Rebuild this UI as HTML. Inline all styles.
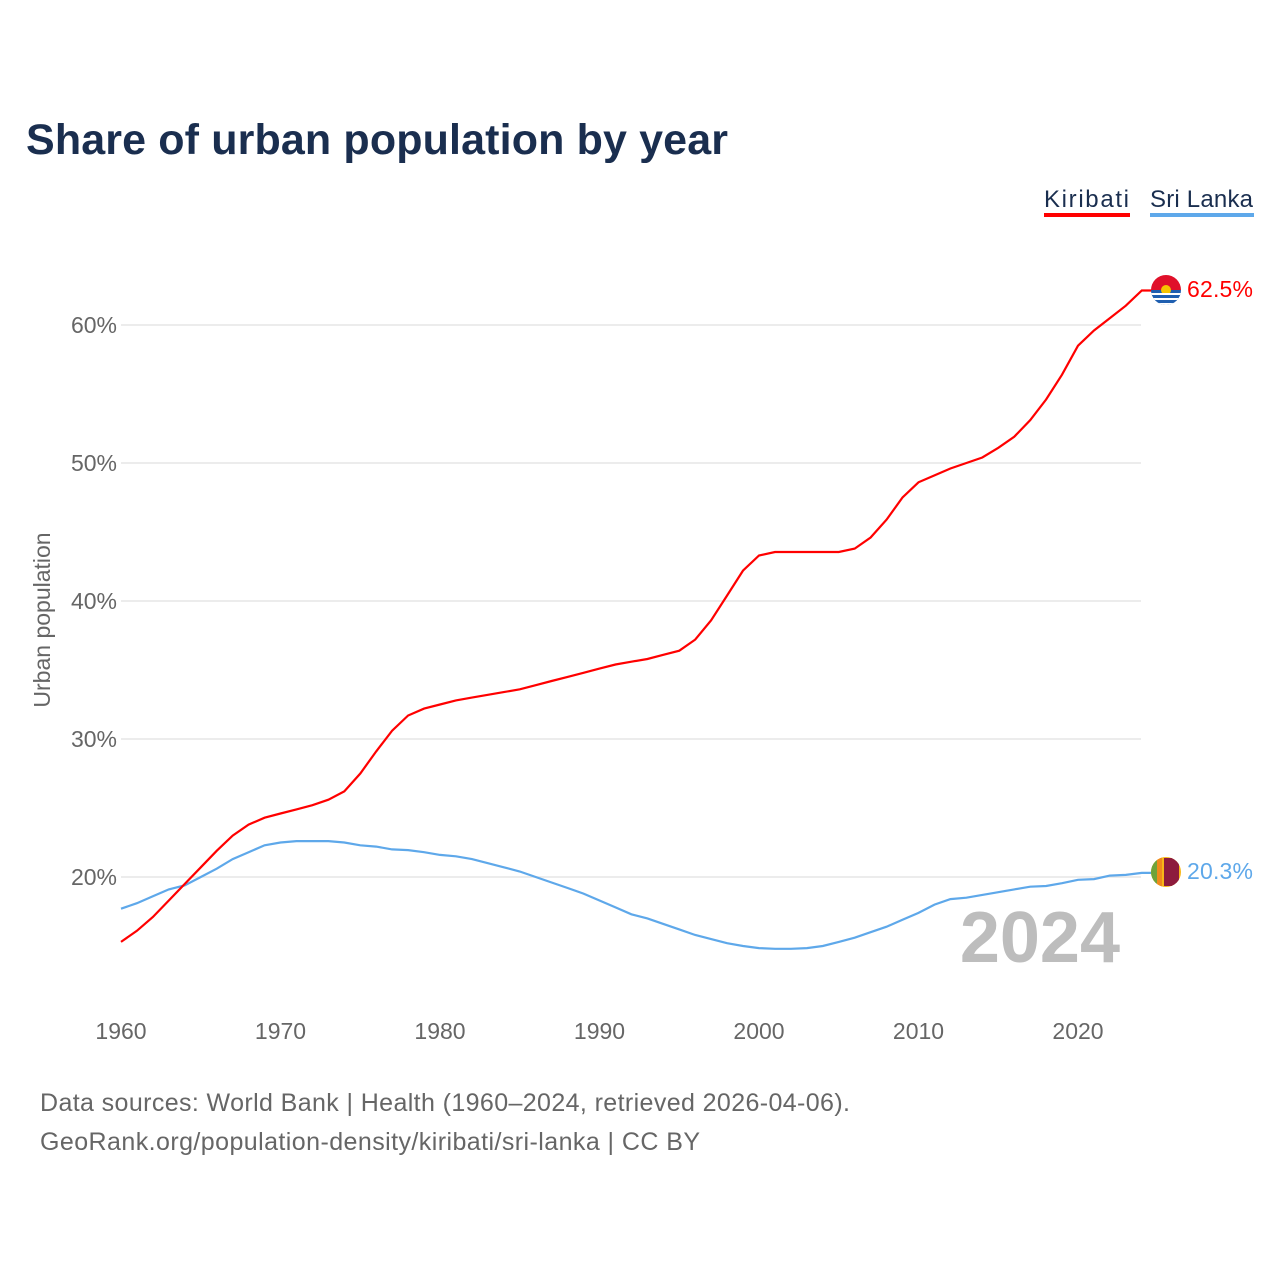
<!DOCTYPE html>
<html><head><meta charset="utf-8"><style>
body{margin:0;background:#fff;font-family:"Liberation Sans",sans-serif;}
svg{display:block}
</style></head><body>
<svg width="1280" height="1280" viewBox="0 0 1280 1280">
<text x="26" y="154" font-size="43" font-weight="bold" fill="#1a2e4f" textLength="702">Share of urban population by year</text>
<g>
<text x="1044" y="207" font-size="24" fill="#1a2e4f" textLength="85">Kiribati</text>
<rect x="1044" y="213" width="86" height="4" fill="#ff0000"/>
<text x="1150" y="207" font-size="24" fill="#1a2e4f" textLength="103">Sri Lanka</text>
<rect x="1150" y="213" width="104" height="4" fill="#5ea8ea"/>
</g>
<text transform="translate(50,620) rotate(-90)" text-anchor="middle" font-size="23" fill="#666">Urban population</text>
<g id="grid"></g><g id="xt"></g>
<text x="1120" y="962" text-anchor="end" font-size="72" font-weight="bold" fill="#bdbdbd">2024</text>
<g id="lines"></g>
<g>
<clipPath id="ck"><circle cx="1166" cy="290" r="15"/></clipPath>
<g clip-path="url(#ck)"><rect x="1150" y="274" width="32" height="16" fill="#e0102a"/><rect x="1150" y="290" width="32" height="16" fill="#1f5fb0"/>
<circle cx="1166" cy="290" r="5" fill="#f5c400"/><path d="M1150 294h32M1150 299h32M1150 304h32" stroke="#fff" stroke-width="2"/></g></g>
<g>
<clipPath id="cs"><circle cx="1166" cy="872" r="15"/></clipPath>
<g clip-path="url(#cs)"><rect x="1150" y="856" width="32" height="32" fill="#f7b718"/><rect x="1151" y="856" width="6" height="32" fill="#6fa33a"/><rect x="1157" y="856" width="5" height="32" fill="#f08a1c"/><rect x="1164" y="858" width="15" height="28" fill="#8d1b3d"/></g></g>
<text x="1187" y="297" font-size="23" fill="#ff0000" textLength="66">62.5%</text>
<text x="1187" y="879" font-size="23" fill="#5ea8ea" textLength="66">20.3%</text>
<text x="40" y="1111" font-size="25" fill="#666" textLength="810">Data sources: World Bank | Health (1960–2024, retrieved 2026-04-06).</text>
<text x="40" y="1150" font-size="25" fill="#666" textLength="660">GeoRank.org/population-density/kiribati/sri-lanka | CC BY</text>
</svg>
<script>
const years=[];for(let y=1960;y<=2024;y++)years.push(y);
const kiribati=[15.3,16.1,17.1,18.3,19.5,20.7,21.9,23.0,23.8,24.3,24.6,24.9,25.2,25.6,26.2,27.5,29.1,30.6,31.7,32.2,32.5,32.8,33.0,33.2,33.4,33.6,33.9,34.2,34.5,34.8,35.1,35.4,35.6,35.8,36.1,36.4,37.2,38.6,40.4,42.2,43.3,43.55,43.55,43.55,43.55,43.55,43.8,44.6,45.9,47.5,48.6,49.1,49.6,50.0,50.4,51.1,51.9,53.1,54.6,56.4,58.5,59.6,60.5,61.4,62.5];
const sriLanka=[17.7,18.1,18.6,19.1,19.4,20.0,20.6,21.3,21.8,22.3,22.5,22.6,22.6,22.6,22.5,22.3,22.2,22.0,21.95,21.8,21.6,21.5,21.3,21.0,20.7,20.4,20.0,19.6,19.2,18.8,18.3,17.8,17.3,17.0,16.6,16.2,15.8,15.5,15.2,15.0,14.85,14.8,14.8,14.85,15.0,15.3,15.6,16.0,16.4,16.9,17.4,18.0,18.4,18.5,18.7,18.9,19.1,19.3,19.35,19.55,19.8,19.85,20.1,20.15,20.3];
const yTicks=[20,30,40,50,60];
const xTicks=[1960,1970,1980,1990,2000,2010,2020];
const NS="http://www.w3.org/2000/svg";
const X=y=>121+(y-1960)*957/60;
const Y=v=>1153-v*13.8;
const grid=document.getElementById('grid'),xt=document.getElementById('xt'),lines=document.getElementById('lines');
yTicks.forEach(t=>{
 const l=document.createElementNS(NS,'line');
 l.setAttribute('x1',121);l.setAttribute('x2',1141);l.setAttribute('y1',Y(t));l.setAttribute('y2',Y(t));
 l.setAttribute('stroke','#e6e6e6');l.setAttribute('stroke-width','1.5');
 
 
 grid.appendChild(l);
 const tx=document.createElementNS(NS,'text');
 tx.setAttribute('x',117);tx.setAttribute('y',Y(t)+8);tx.setAttribute('text-anchor','end');
 tx.setAttribute('font-size','23');tx.setAttribute('fill','#666');tx.textContent=t+'%';
 
 
 grid.appendChild(tx);
});
xTicks.forEach(t=>{
 const tx=document.createElementNS(NS,'text');
 tx.setAttribute('x',X(t));tx.setAttribute('y',1039);tx.setAttribute('text-anchor','middle');
 tx.setAttribute('font-size','23');tx.setAttribute('fill','#666');tx.textContent=t;
 
 
 xt.appendChild(tx);
});
function draw(vals,color,name){
 let d=vals.map((v,i)=>(i?'L':'M')+X(years[i]).toFixed(1)+' '+Y(v).toFixed(1)).join(' ');
 d+=' L'+(X(years[years.length-1])+10)+' '+Y(vals[vals.length-1]).toFixed(1);
 const p=document.createElementNS(NS,'path');
 p.setAttribute('d',d);p.setAttribute('fill','none');p.setAttribute('stroke',color);p.setAttribute('stroke-width','2.2');
 
 
 lines.appendChild(p);
}
draw(sriLanka,'#5ea8ea','sri-lanka-line');
draw(kiribati,'#ff0000','kiribati-line');
</script>
</body></html>
